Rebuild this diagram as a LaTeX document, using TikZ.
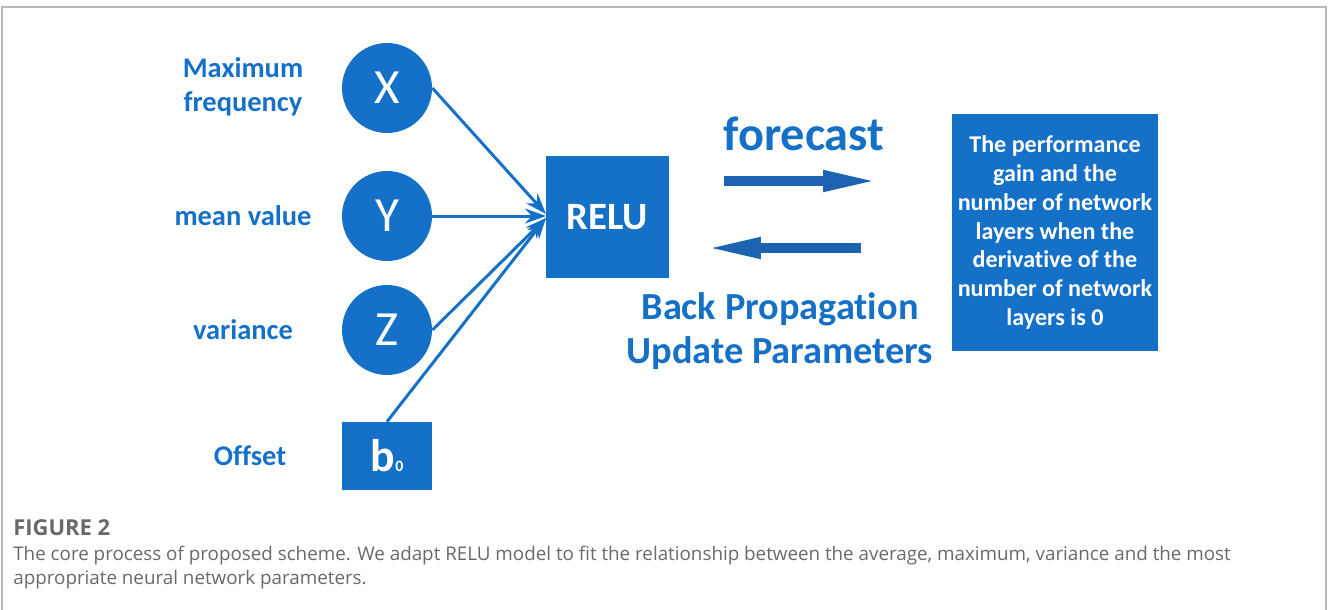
\documentclass[tikz,border=0pt]{standalone}
\usepackage{fontspec}
\setmainfont{Carlito}[Ligatures={NoCommon}]
\newfontfamily\capfont{Open Sans}
\usetikzlibrary{arrows.meta}
\definecolor{nodeblue}{RGB}{21,112,200}
\definecolor{arrowblue}{RGB}{30,98,178}
\definecolor{capgray}{RGB}{105,105,105}
\begin{document}
\begin{tikzpicture}[x=0.02cm,y=-0.02cm,
    innode/.style={circle,fill=nodeblue,minimum size=1.8cm,inner sep=0pt,text=white,font=\fontsize{28}{30}\selectfont},
    inlabel/.style={text=nodeblue,align=center,font=\bfseries\fontsize{16.2}{19.5}\selectfont},
    boxnode/.style={rectangle,fill=nodeblue,inner sep=0pt,text=white,font=\bfseries},
    wire/.style={draw=nodeblue,line width=1.7pt,-{Stealth[length=0.42cm,width=0.3cm]}},
    bigarrow/.style={draw=arrowblue,line width=0.2cm,-{Triangle[length=1.14cm,width=0.38cm]}}]
  \useasboundingbox (0,0) rectangle (1328,609);
  % frame
  \draw[gray!55,line width=0.6pt] (2,7) rectangle (1326,640);

  % inputs X, Y, Z, b0
  \node[innode] (x) at (387,88) {X};
  \node[innode] (y) at (387,216) {Y};
  \node[innode] (z) at (387,330) {Z};
  \node[boxnode,minimum width=1.8cm,minimum height=1.36cm] (b) at (387,456)
    {\fontsize{26}{26}\selectfont b\fontsize{9}{9}\selectfont 0};

  \node[inlabel] (lx) at (243,87) {Maximum\\frequency};
  \node[inlabel] (ly) at (243,216) {mean value};
  \node[inlabel] (lz) at (243,330) {variance};
  \node[inlabel] (lb) at (250,456) {Offset};

  % RELU
  \node[boxnode,minimum width=2.46cm,minimum height=2.44cm,font=\bfseries\fontsize{22}{22}\selectfont] (relu) at (607.5,217) {RELU};
  \coordinate (in1) at (546,214);
  \coordinate (in2) at (546,216);
  \coordinate (in3) at (546,218);
  \draw[wire] (x.east) -- (in1);
  \draw[wire] (y) -- (in2);
  \draw[wire] (z.east) -- (in3);
  \draw[wire] (b.north) -- (in3);

  % forecast / back propagation
  \node[inlabel,font=\bfseries\fontsize{27.5}{30}\selectfont] (fc) at (804,134) {forecast};
  \coordinate (f1) at (724,181);
  \coordinate (f2) at (880,181);
  \coordinate (g1) at (861,248);
  \coordinate (g2) at (704,248);
  \draw[bigarrow] (f1) -- (f2);
  \draw[bigarrow] (g1) -- (g2);
  \node[inlabel,font=\bfseries\fontsize{21.8}{25.5}\selectfont] (bp) at (780,331) {Back Propagation\\Update Parameters};

  % result box
  \node[boxnode,minimum width=4.12cm,minimum height=4.74cm,align=center,font=\bfseries\fontsize{13.7}{16.4}\selectfont] (res) at (1055,232.5)
    {The performance\\gain and the\\number of network\\layers when the\\derivative of the\\number of network\\layers is 0};

  % caption
  \node[anchor=base west,inner sep=0pt,text=capgray,font=\capfont\bfseries\fontsize{12.5}{13}\selectfont] (fig) at (13,535) {FIGURE 2};
  \node[anchor=north west,inner sep=0pt,text=capgray,font=\capfont\fontsize{10.7}{13.8}\selectfont,align=left] (cap) at (13,546)
    {The core process of proposed scheme. We adapt RELU model to fit the relationship between the average, maximum, variance and the most\\appropriate neural network parameters.};
\end{tikzpicture}
\end{document}
